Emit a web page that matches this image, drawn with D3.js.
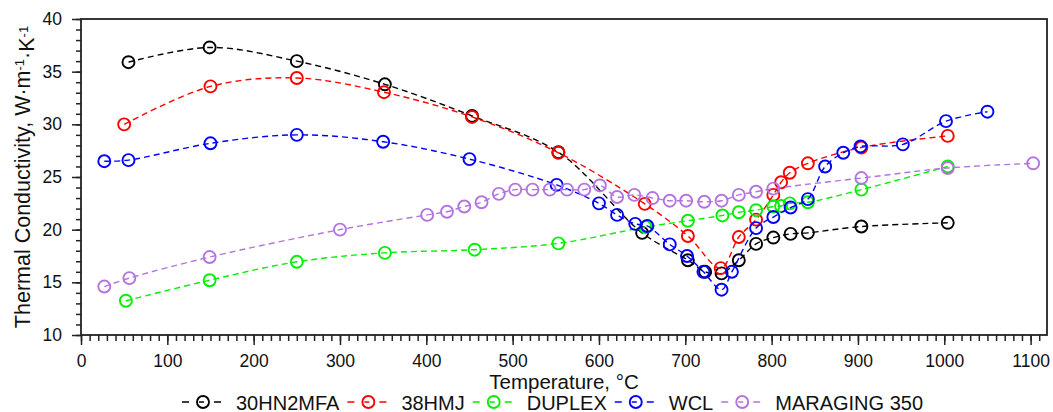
<!DOCTYPE html>
<html>
<head>
<meta charset="utf-8">
<script src="https://cdn.jsdelivr.net/npm/d3@7"></script>
<style>
  body { margin: 0; background: #fff; }
  svg { display: block; font-family: "Liberation Sans", Arial, sans-serif; }
</style>
</head>
<body>
<div id="chart"></div>
<script>
// series names, in legend order
const seriesNames = ["30HN2MFA", "38HMJ", "DUPLEX", "WCL", "MARAGING 350"];

// temperature (C) and conductivity (W/m/K)
const tBlack = [55, 149, 250, 352, 453, 553, 650, 703, 723, 742, 762, 782, 802, 822, 842, 904, 1004];
const kBlack = [35.9, 37.3, 36.0, 33.8, 30.8, 27.35, 19.7, 17.1, 16.0, 15.85, 17.1, 18.65, 19.25, 19.6, 19.7, 20.3, 20.65];

const tRed = [50, 150, 250, 351, 453, 553, 653, 703, 741, 762, 782, 802, 811, 821, 842, 904, 1004];
const kRed = [30.0, 33.6, 34.4, 33.05, 30.7, 27.3, 22.45, 19.4, 16.35, 19.3, 20.95, 23.3, 24.5, 25.4, 26.3, 27.8, 28.9];

const tGreen = [52, 149, 250, 352, 456, 553, 654, 703, 743, 762, 782, 802, 811, 821, 842, 904, 1004];
const kGreen = [13.25, 15.2, 16.95, 17.8, 18.1, 18.7, 20.25, 20.85, 21.35, 21.65, 21.85, 22.2, 22.25, 22.5, 22.6, 23.8, 26.0];

const tBlue = [27, 55, 150, 250, 350, 450, 551, 600, 621, 642, 656, 682, 702, 721, 742, 754, 782, 802, 822, 842, 862, 883, 903, 952, 1002, 1050];
const kBlue = [26.5, 26.6, 28.2, 29.0, 28.35, 26.7, 24.25, 22.5, 21.4, 20.55, 20.35, 18.6, 17.5, 16.0, 14.3, 16.0, 20.15, 21.2, 22.1, 22.9, 26.0, 27.3, 27.9, 28.1, 30.3, 31.2];

const tPurple = [27, 56, 149, 300, 401, 424, 444, 464, 484, 503, 523, 543, 563, 583, 601, 621, 641, 662, 682, 701, 722, 742, 762, 782, 802, 904, 1004, 1103];
const kPurple = [14.6, 15.4, 17.4, 20.0, 21.4, 21.7, 22.2, 22.6, 23.4, 23.8, 23.8, 23.8, 23.8, 23.8, 24.2, 23.1, 23.3, 23.0, 22.75, 22.75, 22.65, 22.75, 23.3, 23.6, 23.9, 24.9, 25.85, 26.3];

const xTicks = d3.range(0, 1101, 100);
const yTicks = d3.range(10, 41, 5);

const COLORS = ["#000000", "#ff0000", "#00f000", "#0000ff", "#b374e0"];

const width = 1053, height = 412;
const margin = {top: 19, right: 6, bottom: 77, left: 81};

const svg = d3.select("#chart")
  .append("svg")
  .attr("width", width)
  .attr("height", height);

const x = d3.scaleLinear()
  .domain([0, 1119])
  .range([margin.left, width - margin.right]);

const y = d3.scaleLinear()
  .domain([10, 40])
  .range([height - margin.bottom, margin.top]);

// frame round the plot
svg.append("rect")
  .attr("x", margin.left)
  .attr("y", margin.top)
  .attr("width", width - margin.right - margin.left)
  .attr("height", height - margin.bottom - margin.top)
  .attr("fill", "none")
  .attr("stroke", "#222")
  .attr("stroke-width", 1.8);

// x axis: minor ticks every 10, major every 100
svg.append("g")
  .attr("transform", `translate(0, ${y(10)})`)
  .call(d3.axisBottom(x).tickValues(d3.range(0, 1111, 10)).tickSize(6).tickFormat("").tickSizeOuter(0))
  .call(g => g.select(".domain").remove());

const xAxis = svg.append("g")
  .attr("transform", `translate(0, ${y(10)})`)
  .call(d3.axisBottom(x).tickValues(xTicks).tickFormat(d3.format("d")).tickSize(10).tickPadding(10).tickSizeOuter(0));
xAxis.select(".domain").remove();

// y axis: minor ticks every 1, major every 5
svg.append("g")
  .attr("transform", `translate(${x(0)}, 0)`)
  .call(d3.axisLeft(y).tickValues(d3.range(10, 41, 1)).tickSize(5).tickFormat("").tickSizeOuter(0))
  .call(g => g.select(".domain").remove());

const yAxis = svg.append("g")
  .attr("transform", `translate(${x(0)}, 0)`)
  .call(d3.axisLeft(y).tickValues(yTicks).tickFormat(d3.format("d")).tickSize(9).tickPadding(10).tickSizeOuter(0));
yAxis.select(".domain").remove();

svg.selectAll(".tick line").attr("stroke", "#222").attr("stroke-width", 1.5);
svg.selectAll(".tick text")
  .attr("font-size", "17.5px")
  .attr("fill", "#111")
  .attr("font-family", "'Liberation Sans', Arial, sans-serif");

// axis titles
svg.append("text")
  .attr("x", (x(0) + x(1119)) / 2)
  .attr("y", 389)
  .attr("text-anchor", "middle")
  .attr("font-size", "20.5px")
  .attr("fill", "#111")
  .text("Temperature, °C");

const yTitle = svg.append("text")
  .attr("transform", `translate(30, ${(y(10) + y(40)) / 2}) rotate(-90)`)
  .attr("text-anchor", "middle")
  .attr("font-size", "21.5px")
  .attr("fill", "#111");
yTitle.append("tspan").text("Thermal Conductivity, W·m");
yTitle.append("tspan").attr("dy", "-0.45em").attr("font-size", "13px").text("-1");
yTitle.append("tspan").attr("dy", "0.45em").text("·K");
yTitle.append("tspan").attr("dy", "-0.45em").attr("font-size", "13px").text("-1");

// series
const allT = [tBlack, tRed, tGreen, tBlue, tPurple];
const allK = [kBlack, kRed, kGreen, kBlue, kPurple];

const line = d3.line()
  .x(d => x(d[0]))
  .y(d => y(d[1]))
  .curve(d3.curveCatmullRom.alpha(0.5));

seriesNames.forEach(function(name, i) {
  const pts = allT[i].map((t, j) => [t, allK[i][j]]);
  const g = svg.append("g").attr("class", "series");

  g.append("path")
    .datum(pts)
    .attr("d", line)
    .attr("fill", "none")
    .attr("stroke", COLORS[i])
    .attr("stroke-width", 1.4)
    .attr("stroke-dasharray", "6,4");

  g.selectAll("circle")
    .data(pts)
    .enter()
    .append("circle")
    .attr("cx", d => x(d[0]))
    .attr("cy", d => y(d[1]))
    .attr("r", 6)
    .attr("fill", "none")
    .attr("stroke", COLORS[i])
    .attr("stroke-width", 1.9);
});

// legend along the bottom
let lx = 182;
const ly = 402;
seriesNames.forEach(function(name, i) {
  const item = svg.append("g");
  item.append("line")
    .attr("x1", lx).attr("x2", lx + 42)
    .attr("y1", ly).attr("y2", ly)
    .attr("stroke", COLORS[i])
    .attr("stroke-width", 1.4)
    .attr("stroke-dasharray", "7,10,5,10,7");
  item.append("circle")
    .attr("cx", lx + 21).attr("cy", ly)
    .attr("r", 6)
    .attr("fill", "none")
    .attr("stroke", COLORS[i])
    .attr("stroke-width", 1.9);
  const txt = item.append("text")
    .attr("x", lx + 54)
    .attr("y", ly + 7.5)
    .attr("font-size", "20px")
    .attr("fill", "#111")
    .text(name);
  lx = lx + 54 + txt.node().getComputedTextLength() + 8;
});
</script>
</body>
</html>
